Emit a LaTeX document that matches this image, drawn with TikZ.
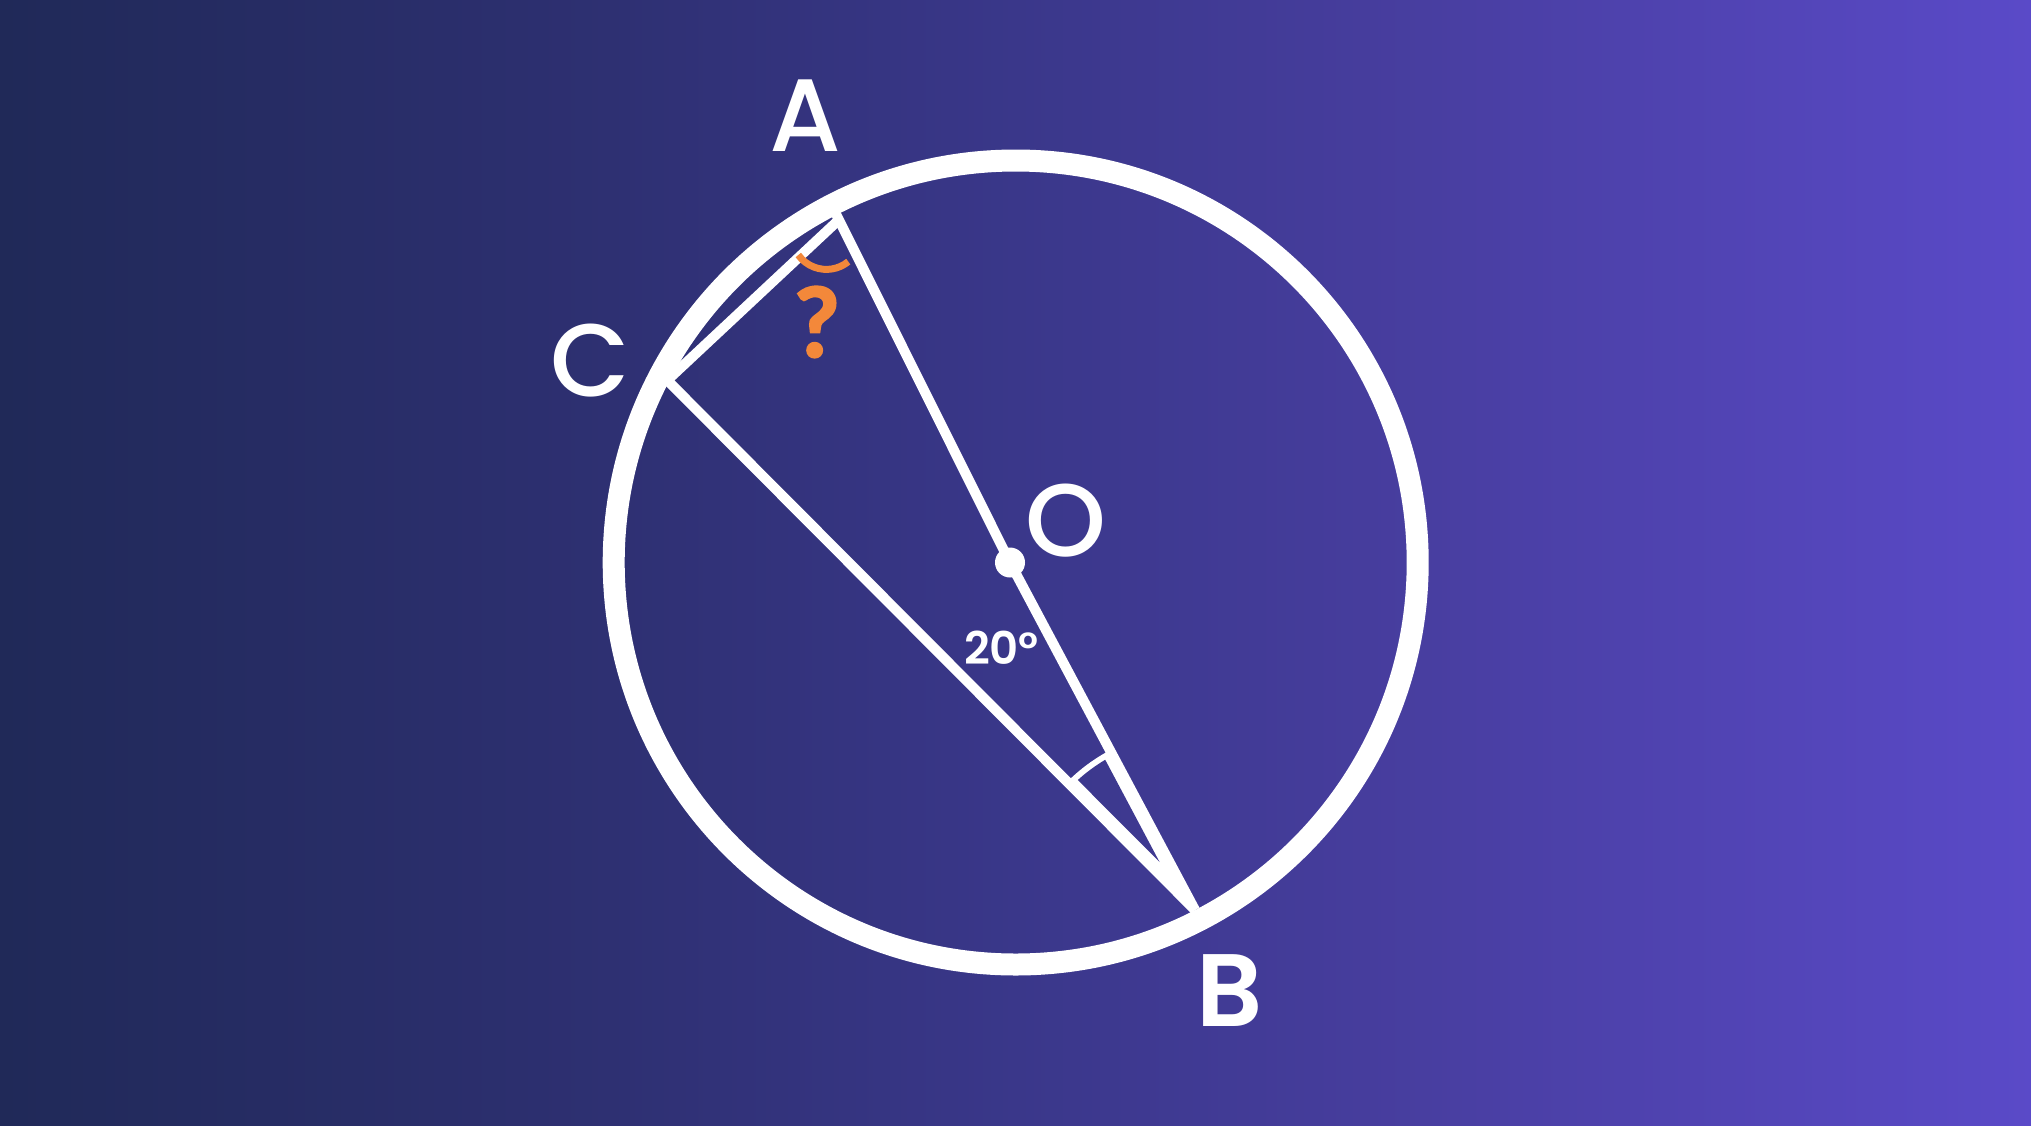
\documentclass[tikz,border=0pt]{standalone}
\usepackage{fontspec}
\setmainfont{Poppins}
\newfontfamily\popmed{Poppins Medium}
\newfontfamily\popsemi{Poppins SemiBold}
\newfontfamily\qfont[FakeBold=2.5]{Lato}
\definecolor{orng}{RGB}{243,136,58}
\pgfdeclarehorizontalshading{bgshade}{100bp}{rgb(0bp)=(0.125,0.161,0.345); rgb(25bp)=(0.125,0.161,0.345); rgb(40bp)=(0.180,0.188,0.447); rgb(50bp)=(0.227,0.216,0.541); rgb(60bp)=(0.282,0.243,0.627); rgb(75bp)=(0.353,0.290,0.784); rgb(100bp)=(0.353,0.290,0.784)}
\begin{document}
\begin{tikzpicture}[x=1pt,y=-1pt,
  wline/.style={draw=white,line width=10pt},
  lbl/.style={text=white,inner sep=0pt,anchor=center},
  biglbl/.style={lbl,font=\popmed\fontsize{103}{103}\selectfont},
  qmark/.style={draw=orng,line width=7pt}]
\useasboundingbox (0,0) rectangle (2031,1125);
\shade[shading=bgshade] (0,0) rectangle (2031,1125);
% points
\coordinate (O) at (1015.7,562.5);
\coordinate (D) at (1010,562.5);
\coordinate (Atop) at (832,206);
\coordinate (A) at (839,219.7);
\coordinate (C) at (667.3,380.3);
\coordinate (B) at (1195,910);
\coordinate (Q) at (826.4,234.8);
\coordinate (Tip) at (1159.6,862.1);
\coordinate (L) at (1077.8,780.0);
% angle mark at B: white sector with a thin inner sliver of background
\fill[white] (B) -- ++(225.1:181) arc[start angle=225.1,end angle=242,radius=181] -- cycle;
\begin{scope}
  \clip (Tip) -- (L) arc[start angle=227.96,end angle=239.13,radius=175] -- cycle;
  \shade[shading=bgshade] (0,0) rectangle (2031,1125);
\end{scope}
% chords
\draw[wline,line join=miter] (A) -- (C) -- (B);
\draw[wline] (Atop) -- (D) -- (B);
% circle
\draw[white,line width=22pt] (O) circle[radius=402];
\fill[white] (D) circle[radius=15];
% orange angle arc at A
\draw[qmark] (Q) ++(50.8:34.6) arc[start angle=50.8,end angle=144.3,radius=34.6];
% labels
\node[biglbl] (la) at (805,116) {A};
\node[biglbl] (lc) at (590.5,361) {C};
\node[biglbl] (lo) at (1065.5,520.5) {O};
\node[lbl,font=\popsemi\fontsize{103}{103}\selectfont] (lb) at (1230,991) {B};
\node[lbl,font=\popsemi\fontsize{45}{45}\selectfont] (l20) at (1001.5,647.5) {20°};
\node[lbl,text=orng,font=\qfont\bfseries\fontsize{96}{96}\selectfont] (lq) at (817,322) {?};
\end{tikzpicture}
\end{document}
